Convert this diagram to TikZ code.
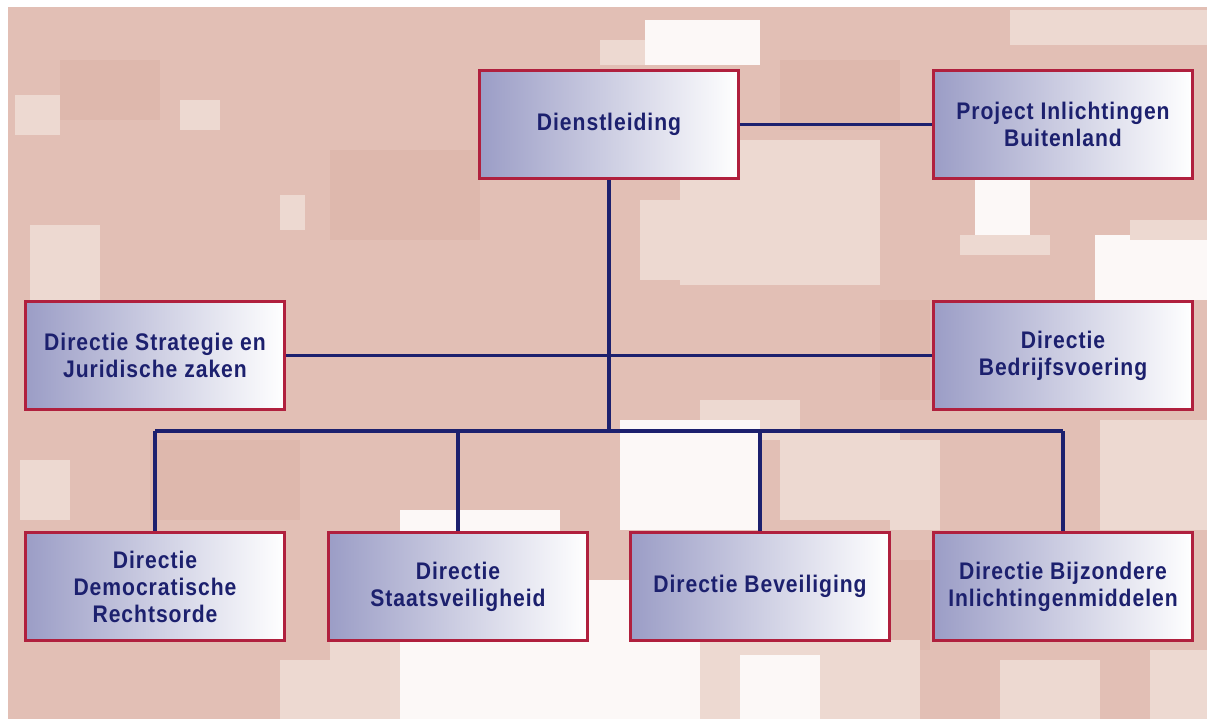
\documentclass[tikz,border=0pt]{standalone}
\usepackage{fontspec}
\setmainfont{Liberation Sans}[FakeStretch=0.88,LetterSpace=4]
\definecolor{pinkbase}{RGB}{226,191,181}
\definecolor{pinkdark}{RGB}{222,184,173}
\definecolor{pinklight}{RGB}{237,217,209}
\definecolor{pinkwhite}{RGB}{252,248,247}
\definecolor{boxred}{RGB}{176,32,62}
\definecolor{boxleft}{RGB}{155,157,198}
\definecolor{navy}{RGB}{28,32,110}
\begin{document}
\begin{tikzpicture}[x=1pt,y=-1pt,
  orgbox/.style={draw=boxred, line width=3pt, left color=boxleft, right color=white,
    minimum width=259pt, minimum height=108pt, inner sep=0pt, align=center,
    font=\fontsize{24}{27}\selectfont\bfseries, text=navy},
  link/.style={draw=navy, line width=3.2pt},
  lt/.style={fill=pinklight},
  wt/.style={fill=pinkwhite},
  dk/.style={fill=pinkdark}]
\useasboundingbox (0,0) rectangle (1207,719);
\fill[white] (0,0) rectangle (1207,719);
\fill[pinkbase] (8,7) rectangle (1207,719);
% background texture
\path[dk] (60,60) rectangle (160,120);
\path[dk] (330,150) rectangle (480,240);
\path[dk] (780,60) rectangle (900,130);
\path[dk] (880,300) rectangle (930,400);
\path[dk] (150,440) rectangle (300,520);
\path[dk] (840,560) rectangle (930,650);
\path[lt] (600,40) rectangle (650,65);
\path[wt] (645,20) rectangle (760,65);
\path[lt] (1010,10) rectangle (1207,45);
\path[lt] (680,140) rectangle (880,285);
\path[lt] (640,200) rectangle (700,280);
\path[lt] (620,110) rectangle (680,140);
\path[wt] (975,180) rectangle (1030,235);
\path[lt] (960,235) rectangle (1050,255);
\path[wt] (1095,235) rectangle (1207,300);
\path[lt] (1130,220) rectangle (1207,240);
\path[lt] (15,95) rectangle (60,135);
\path[lt] (30,225) rectangle (100,300);
\path[lt] (180,100) rectangle (220,130);
\path[lt] (280,195) rectangle (305,230);
\path[lt] (700,400) rectangle (800,440);
\path[lt] (780,430) rectangle (900,520);
\path[wt] (620,420) rectangle (760,530);
\path[wt] (400,510) rectangle (560,719);
\path[wt] (560,580) rectangle (700,719);
\path[lt] (330,640) rectangle (400,719);
\path[lt] (280,660) rectangle (330,719);
\path[lt] (700,640) rectangle (920,719);
\path[wt] (740,655) rectangle (820,719);
\path[lt] (890,440) rectangle (940,530);
\path[lt] (1100,420) rectangle (1207,530);
\path[lt] (1150,650) rectangle (1207,719);
\path[lt] (1000,660) rectangle (1100,719);
\path[lt] (20,460) rectangle (70,520);
% boxes
\node[orgbox] (dl) at (609,124.5) {Dienstleiding};
\node[orgbox] (pib) at (1063,124.5) {Project Inlichtingen\\Buitenland};
\node[orgbox] (dsj) at (155,355.5) {Directie Strategie en\\Juridische zaken};
\node[orgbox] (dbv) at (1063,355.5) {Directie\\Bedrijfsvoering};
\node[orgbox] (ddr) at (155,586.5) {Directie\\Democratische\\Rechtsorde};
\node[orgbox] (dsv) at (458,586.5) {Directie\\Staatsveiligheid};
\node[orgbox] (dbe) at (760,586.5) {Directie Beveiliging};
\node[orgbox] (dbi) at (1063,586.5) {Directie Bijzondere\\Inlichtingenmiddelen};
% bus coordinates
\coordinate (j) at (609,431);
\coordinate (b1) at (155,431);
\coordinate (b2) at (458,431);
\coordinate (b3) at (760,431);
\coordinate (b4) at (1063,431);
% connectors
\draw[link] (dl.east) -- (pib.west);
\draw[link] (dl.south) -- (j);
\draw[link] (dsj.east) -- (dbv.west);
\draw[link] (b1) -- (b4);
\draw[link] (b1) -- (ddr.north);
\draw[link] (b2) -- (dsv.north);
\draw[link] (b3) -- (dbe.north);
\draw[link] (b4) -- (dbi.north);
\end{tikzpicture}
\end{document}
